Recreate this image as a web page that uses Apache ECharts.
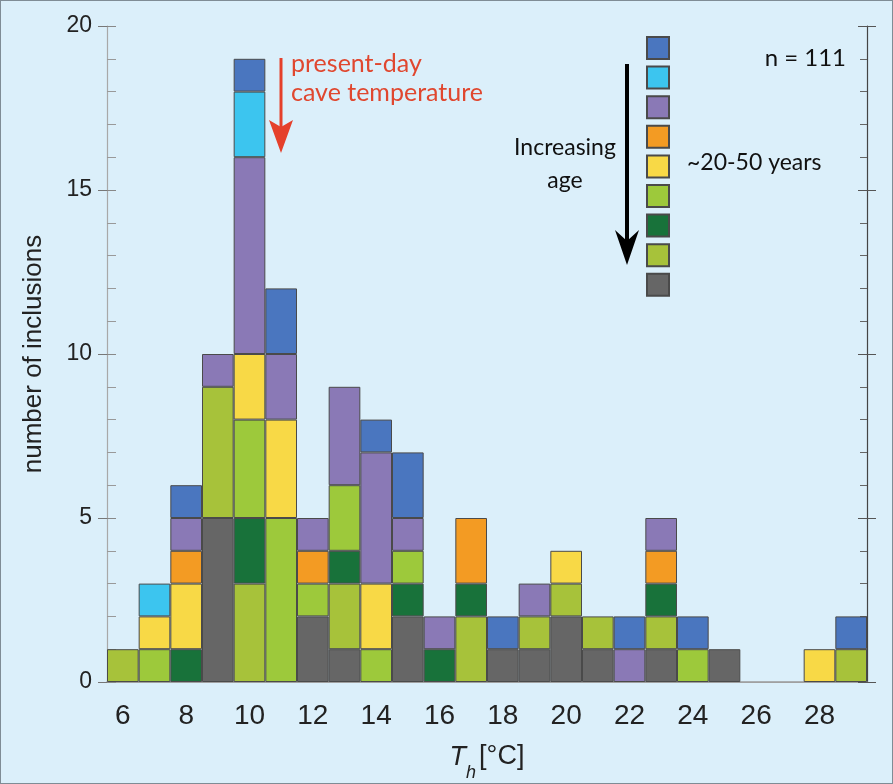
<!DOCTYPE html>
<html>
<head>
<meta charset="utf-8">
<script src="https://cdn.jsdelivr.net/npm/echarts@6/dist/echarts.min.js"></script>
<style>
html,body{margin:0;padding:0;background:#dbeffa;}
#c{width:893px;height:784px;box-sizing:border-box;border:1.5px solid #7f8c95;}
</style>
</head>
<body>
<div id="c"></div>
<script>
// Bins (T_h, °C)
const categories = ['6','7','8','9','10','11','12','13','14','15','16','17','18','19','20','21','22','23','24','25','26','27','28','29'];
// Counts per bin, oldest group first (stacked bottom -> top)
//                 6 7 8 9 10 11 12 13 14 15 16 17 18 19 20 21 22 23 24 25 26 27 28 29
const grayVals   = [0,0,0,5, 0, 0, 2, 1, 0, 2, 0, 0, 1, 1, 2, 1, 0, 1, 0, 1, 0, 0, 0, 0];
const oliveVals  = [1,0,0,4, 3, 0, 0, 2, 0, 0, 0, 2, 0, 1, 1, 1, 0, 1, 0, 0, 0, 0, 0, 1];
const dkGreenVals= [0,0,1,0, 2, 0, 0, 1, 0, 1, 1, 1, 0, 0, 0, 0, 0, 1, 0, 0, 0, 0, 0, 0];
const ltGreenVals= [0,1,0,0, 3, 5, 1, 2, 1, 1, 0, 0, 0, 0, 0, 0, 0, 0, 1, 0, 0, 0, 0, 0];
const yellowVals = [0,1,2,0, 2, 3, 0, 0, 2, 0, 0, 0, 0, 0, 1, 0, 0, 0, 0, 0, 0, 0, 1, 0];
const orangeVals = [0,0,1,0, 0, 0, 1, 0, 0, 0, 0, 2, 0, 0, 0, 0, 0, 1, 0, 0, 0, 0, 0, 0];
const purpleVals = [0,0,1,1, 6, 2, 1, 3, 4, 1, 1, 0, 0, 1, 0, 0, 1, 1, 0, 0, 0, 0, 0, 0];
const cyanVals   = [0,1,0,0, 2, 0, 0, 0, 0, 0, 0, 0, 0, 0, 0, 0, 0, 0, 0, 0, 0, 0, 0, 0];
const blueVals   = [0,0,1,0, 1, 2, 0, 0, 1, 2, 0, 0, 1, 0, 0, 0, 1, 0, 1, 0, 0, 0, 0, 1];
const yTicks = [0,5,10,15,20];

const groups = [
  {name:'g9', color:'#666666', data:grayVals},
  {name:'g8', color:'#a7c23a', data:oliveVals},
  {name:'g7', color:'#18723a', data:dkGreenVals},
  {name:'g6', color:'#9dc93b', data:ltGreenVals},
  {name:'g5', color:'#f8d946', data:yellowVals},
  {name:'g4', color:'#f39b23', data:orangeVals},
  {name:'g3', color:'#8a79b6', data:purpleVals},
  {name:'g2', color:'#3cc5ef', data:cyanVals},
  {name:'g1', color:'#4a76bf', data:blueVals}
];

const chart = echarts.init(document.getElementById('c'), null, {renderer:'canvas'});
const narrow = '"Liberation Sans Narrow","Arial Narrow","Liberation Sans",sans-serif';
const humanist = 'Lato,"Open Sans",sans-serif';

const series = groups.map(g => ({
  name: g.name, type:'bar', stack:'all', barWidth:'100%', barGap:'0%',
  xAxisIndex:0, yAxisIndex:0,
  itemStyle:{color:g.color, borderColor:'#4a4a4a', borderWidth:1},
  emphasis:{disabled:true},
  data: g.data.map(v => v === 0 ? '-' : v)
}));

const option = {
  backgroundColor:'#dbeffa',
  animation:false,
  grid:{left:106, right:25, top:25, bottom:101, containLabel:false, outerBoundsMode:'none'},
  legend:{
    orient:'vertical', left:645, top:35, itemWidth:22, itemHeight:22, itemGap:5.6,
    icon:'rect', selectedMode:false, padding:0,
    data: groups.map(g=>g.name).reverse(),
    formatter:()=> '', textStyle:{fontSize:6}
  },
  xAxis:[
    {type:'category', data:categories, position:'bottom', boundaryGap:true,
     axisLine:{lineStyle:{color:'#9a9a9a', width:1.5}},
     axisTick:{alignWithLabel:true, interval:0, length:8, lineStyle:{color:'#777'}},
     axisLabel:{interval:1, fontSize:28, margin:20, color:'#222', fontFamily:narrow},
     name:'{i|T}{s|h}{n|[°C]}', nameLocation:'middle', nameGap:50,
     nameTextStyle:{rich:{
       i:{fontSize:27, fontStyle:'italic', fontFamily:narrow, color:'#222'},
       s:{fontSize:18, fontStyle:'italic', fontFamily:narrow, color:'#222', padding:[32,3,0,0]},
       n:{fontSize:27, fontFamily:narrow, color:'#222'}
     }}
    },
    {type:'category', data:categories, position:'bottom', boundaryGap:true,
     axisLine:{show:false},
     axisTick:{alignWithLabel:true, interval:0, inside:true, length:10, lineStyle:{color:'#777'}},
     axisLabel:{show:false}},
    {type:'category', data:categories, position:'top', boundaryGap:true,
     axisLine:{lineStyle:{color:'#a0a0a0', width:1}},
     axisTick:{alignWithLabel:true, interval:0, inside:true, length:4, lineStyle:{color:'#888'}},
     axisLabel:{show:false}}
  ],
  yAxis:[
    {type:'value', min:yTicks[0], max:yTicks[yTicks.length-1], interval:5, position:'left',
     splitLine:{show:false},
     axisLine:{show:true, lineStyle:{color:'#a8a8a8', width:1.2}},
     axisTick:{show:true, length:9, lineStyle:{color:'#777'}},
     axisLabel:{fontSize:23, margin:15, color:'#222', fontFamily:'"Liberation Sans",Arial,sans-serif'},
     name:'number of inclusions', nameLocation:'middle', nameGap:60, nameRotate:90,
     nameTextStyle:{fontSize:26, color:'#222', fontFamily:narrow}},
    {type:'value', min:0, max:20, interval:5, position:'left',
     splitLine:{show:false}, axisLine:{show:false},
     axisTick:{show:true, inside:true, length:9, lineStyle:{color:'#888'}},
     minorTick:{show:true, splitNumber:5, length:9, lineStyle:{color:'#999'}},
     axisLabel:{show:false}},
    {type:'value', min:0, max:20, interval:5, position:'right',
     splitLine:{show:false},
     axisLine:{show:true, lineStyle:{color:'#444', width:1.2}},
     axisTick:{show:true, inside:true, length:9, lineStyle:{color:'#555'}},
     minorTick:{show:true, splitNumber:5, length:7, lineStyle:{color:'#666'}},
     axisLabel:{show:false}},
    {type:'value', min:0, max:20, interval:5, position:'right',
     splitLine:{show:false}, axisLine:{show:false},
     axisTick:{show:true, length:9, lineStyle:{color:'#555'}},
     axisLabel:{show:false}}
  ],
  series: series,
  graphic:[
    // red arrow + annotation
    {type:'line', shape:{x1:280, y1:57, x2:280, y2:128}, style:{stroke:'#e5402b', lineWidth:3}},
    {type:'polygon', shape:{points:[[268,119],[280,126],[292,119],[280,152]]}, style:{fill:'#e5402b'}},
    {type:'text', left:290, top:48, style:{text:'present-day\ncave temperature', fill:'#e0472f', font:'25px '+humanist, lineHeight:29}},
    // black arrow
    {type:'line', shape:{x1:626, y1:63, x2:626, y2:240}, style:{stroke:'#000', lineWidth:4}},
    {type:'polygon', shape:{points:[[614,229],[626,240],[638,229],[626,264]]}, style:{fill:'#000'}},
    {type:'text', x:564, y:147, style:{text:'Increasing', fill:'#111', font:'23px '+humanist, align:'center', verticalAlign:'middle'}},
    {type:'text', x:564, y:180, style:{text:'age', fill:'#111', font:'23px '+humanist, align:'center', verticalAlign:'middle'}},
    {type:'text', x:686, y:162, style:{text:'~20-50 years', fill:'#111', font:'23px '+humanist, verticalAlign:'middle'}},
    {type:'text', x:845, y:57, style:{text:'n = 111', fill:'#111', font:'24px '+humanist, align:'right', verticalAlign:'middle'}}
  ]
};
chart.setOption(option);
</script>
</body>
</html>
